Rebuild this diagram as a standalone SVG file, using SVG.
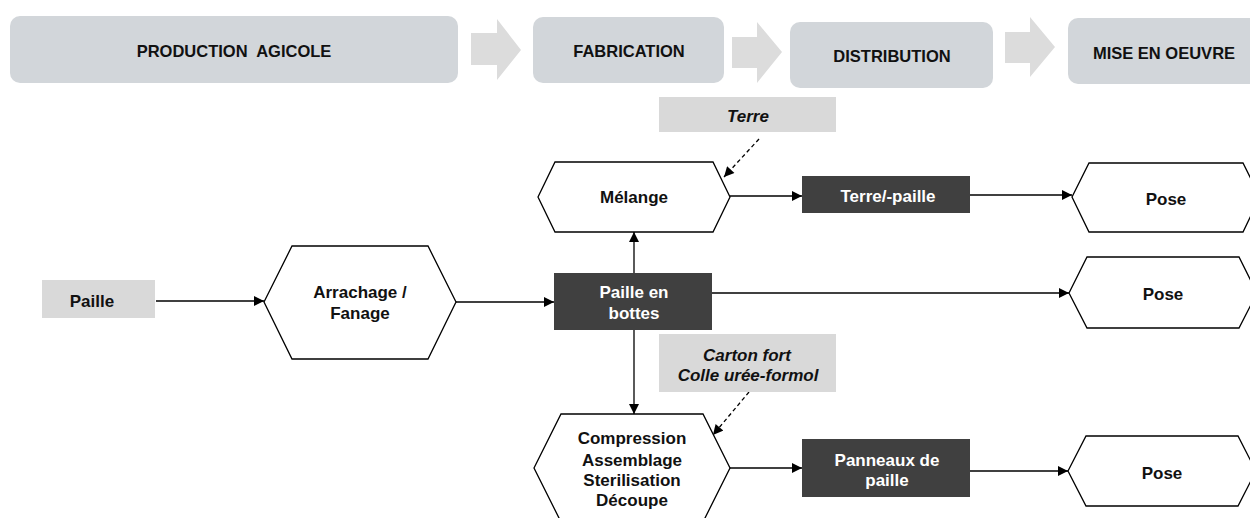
<svg xmlns="http://www.w3.org/2000/svg" width="1250" height="518" viewBox="0 0 1250 518">
<style>
.hdr{fill:#d2d6da}
.chev{fill:#dcdcdc}
.src{fill:#d9d9d9}
.dark{fill:#404040}
.hex{fill:#ffffff;stroke:#000;stroke-width:1.3}
.t{font-family:"Liberation Sans",Arial,sans-serif;font-weight:bold;text-anchor:middle;fill:#111}
.th{font-size:16.5px}
.tb{font-size:17px}
.tw{fill:#ffffff}
.ti{font-style:italic}
.pre{white-space:pre}
.ln{fill:none;stroke:#000;stroke-width:1.3}
.dash{stroke-dasharray:4 3}
</style>
<defs>
<marker id="ah" viewBox="0 0 10 10" refX="10" refY="5" markerWidth="11" markerHeight="10" markerUnits="userSpaceOnUse" orient="auto">
<path d="M0,0 L10,5 L0,10 z" fill="#000"/>
</marker>
</defs>
<rect width="1250" height="518" fill="#ffffff"/>

<g id="header">
<g id="h-production"><rect class="hdr" x="10" y="16" width="448" height="67" rx="10"/><text class="t th pre" x="234" y="57" xml:space="preserve">PRODUCTION  AGICOLE</text></g>
<polygon class="chev" points="471,33 497,33 497,19 521,50 497,80 497,65 471,65"/>
<g id="h-fabrication"><rect class="hdr" x="533" y="17" width="191" height="66" rx="10"/><text class="t th" x="629" y="57">FABRICATION</text></g>
<polygon class="chev" points="732,37 757,37 757,22 782,52 757,83 757,68 732,68"/>
<g id="h-distribution"><rect class="hdr" x="790" y="22" width="203" height="66" rx="10"/><text class="t th" x="892" y="62">DISTRIBUTION</text></g>
<polygon class="chev" points="1005,32 1030,32 1030,17 1055,47 1030,77 1030,63 1005,63"/>
<g id="h-mise"><rect class="hdr" x="1068" y="18" width="192" height="66" rx="10"/><text class="t th" x="1164" y="59">MISE EN OEUVRE</text></g>
</g>

<g id="connectors">
<line class="ln" x1="156" y1="301" x2="264" y2="301" marker-end="url(#ah)"/>
<line class="ln" x1="456" y1="302" x2="554" y2="302" marker-end="url(#ah)"/>
<line class="ln" x1="634" y1="273" x2="634" y2="232" marker-end="url(#ah)"/>
<line class="ln" x1="634" y1="330" x2="634" y2="414" marker-end="url(#ah)"/>
<line class="ln" x1="712" y1="293" x2="1069" y2="293" marker-end="url(#ah)"/>
<line class="ln" x1="730" y1="196" x2="802" y2="196" marker-end="url(#ah)"/>
<line class="ln" x1="970" y1="195" x2="1072" y2="195" marker-end="url(#ah)"/>
<line class="ln" x1="730" y1="468" x2="802" y2="468" marker-end="url(#ah)"/>
<line class="ln" x1="970" y1="471" x2="1068" y2="471" marker-end="url(#ah)"/>
<line class="ln dash" x1="759" y1="139" x2="724" y2="177" marker-end="url(#ah)"/>
<line class="ln dash" x1="749" y1="392" x2="713" y2="435" marker-end="url(#ah)"/>
</g>

<g id="n-paille"><rect class="src" x="42" y="280" width="113" height="38"/><text class="t tb" x="92" y="307">Paille</text></g>

<g id="n-arrachage"><polygon class="hex" points="264,302 292,246 428,246 456,302 428,359 292,359"/><text class="t tb" x="360" y="298">Arrachage /</text><text class="t tb" x="360" y="319">Fanage</text></g>

<g id="n-bottes"><rect class="dark" x="554" y="273" width="158" height="57"/><text class="t tb tw" x="634" y="298">Paille en</text><text class="t tb tw" x="634" y="319">bottes</text></g>

<g id="n-terre"><rect class="src" x="659" y="97" width="177" height="35"/><text class="t tb ti" x="748" y="122">Terre</text></g>

<g id="n-melange"><polygon class="hex" points="538,197 555,162 713,162 730,197 713,232 555,232"/><text class="t tb" x="634" y="203">Mélange</text></g>

<g id="n-terrepaille"><rect class="dark" x="802" y="176" width="168" height="37"/><text class="t tb tw" x="888" y="202">Terre/-paille</text></g>

<g id="n-pose1"><polygon class="hex" points="1072,197 1089,163 1243,163 1260,197 1243,232 1089,232"/><text class="t tb" x="1166" y="205">Pose</text></g>

<g id="n-pose2"><polygon class="hex" points="1069,293 1087,257 1239,257 1257,293 1239,328 1087,328"/><text class="t tb" x="1163" y="300">Pose</text></g>

<g id="n-carton"><rect class="src" x="659" y="334" width="177" height="58"/><text class="t tb ti" x="747" y="361">Carton fort</text><text class="t tb ti" x="748" y="381">Colle urée-formol</text></g>

<g id="n-compression"><polygon class="hex" points="534,468 561,414 703,414 730,468 703,522 561,522"/><text class="t tb" x="632" y="444">Compression</text><text class="t tb" x="632" y="466">Assemblage</text><text class="t tb" x="632" y="486">Sterilisation</text><text class="t tb" x="632" y="506">Découpe</text></g>

<g id="n-panneaux"><rect class="dark" x="802" y="439" width="168" height="58"/><text class="t tb tw" x="887" y="466">Panneaux de</text><text class="t tb tw" x="887" y="486">paille</text></g>

<g id="n-pose3"><polygon class="hex" points="1068,471 1086,436 1238,436 1256,471 1238,506 1086,506"/><text class="t tb" x="1162" y="479">Pose</text></g>
</svg>
